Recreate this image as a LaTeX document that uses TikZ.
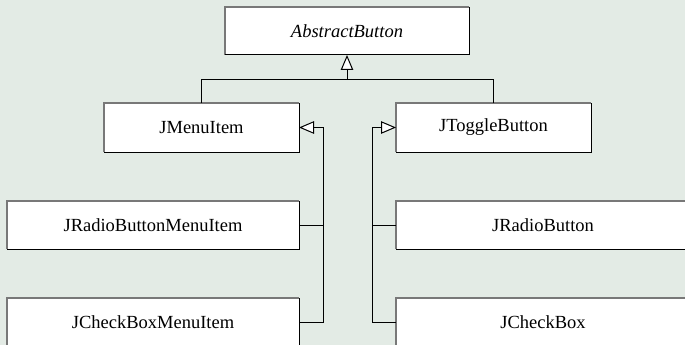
\documentclass[tikz,border=0pt]{standalone}
\usepackage{fontspec}
\newfontfamily\clsfont{Liberation Serif}
\usetikzlibrary{arrows.meta}
\definecolor{bgc}{RGB}{227,235,229}
\definecolor{edgegray}{RGB}{120,120,120}
\tikzset{
  cls/.style={fill=white, inner sep=0pt, outer sep=0pt, font=\clsfont\fontsize{18.5}{22}\selectfont},
  inh/.style={line width=1pt, -{Triangle[length=15pt,width=12.5pt,fill=white]}},
  conn/.style={line width=1pt},
}
\begin{document}
\begin{tikzpicture}[x=1pt,y=-1pt]
\useasboundingbox (0,0) rectangle (685,345);
\fill[bgc] (0,0) rectangle (685,345);
\node[cls, minimum width=244pt, minimum height=48pt] (ab) at (347,31) {\itshape AbstractButton};
\node[cls, minimum width=195pt, minimum height=49pt] (mi) at (201.5,127.5) {JMenuItem};
\node[cls, minimum width=195pt, minimum height=49pt] (tb) at (493.5,127.5) {JToggleButton};
\node[cls, minimum width=292pt, minimum height=48pt] (rbmi) at (153,225) {JRadioButtonMenuItem};
\node[cls, minimum width=292pt, minimum height=49pt] (cbmi) at (153,322.5) {JCheckBoxMenuItem};
\node[cls, minimum width=294pt, minimum height=48pt] (rb) at (543,225) {JRadioButton};
\node[cls, minimum width=294pt, minimum height=49pt] (cb) at (543,322.5) {JCheckBox};
\foreach \n in {ab,mi,tb,rbmi,cbmi,rb,cb}{
  \draw[edgegray, line width=1.2pt] (\n.south west) |- (\n.north east);
  \draw[black, line width=1pt] (\n.south west) -| (\n.north east);
}
\coordinate (j) at (347,79);
\coordinate (lb) at (323,0);
\coordinate (rbx) at (372,0);
% top inheritance
\draw[conn] (mi.north) |- (j);
\draw[conn] (tb.north) |- (j);
\draw[inh] (j) -- (ab.south);
% left group
\draw[inh] (cbmi.east) -| (lb |- mi.east) -- (mi.east);
\draw[conn] (rbmi.east) -- (lb |- rbmi.east);
% right group
\draw[inh] (cb.west) -| (rbx |- tb.west) -- (tb.west);
\draw[conn] (rb.west) -- (rbx |- rb.west);
\end{tikzpicture}
\end{document}
